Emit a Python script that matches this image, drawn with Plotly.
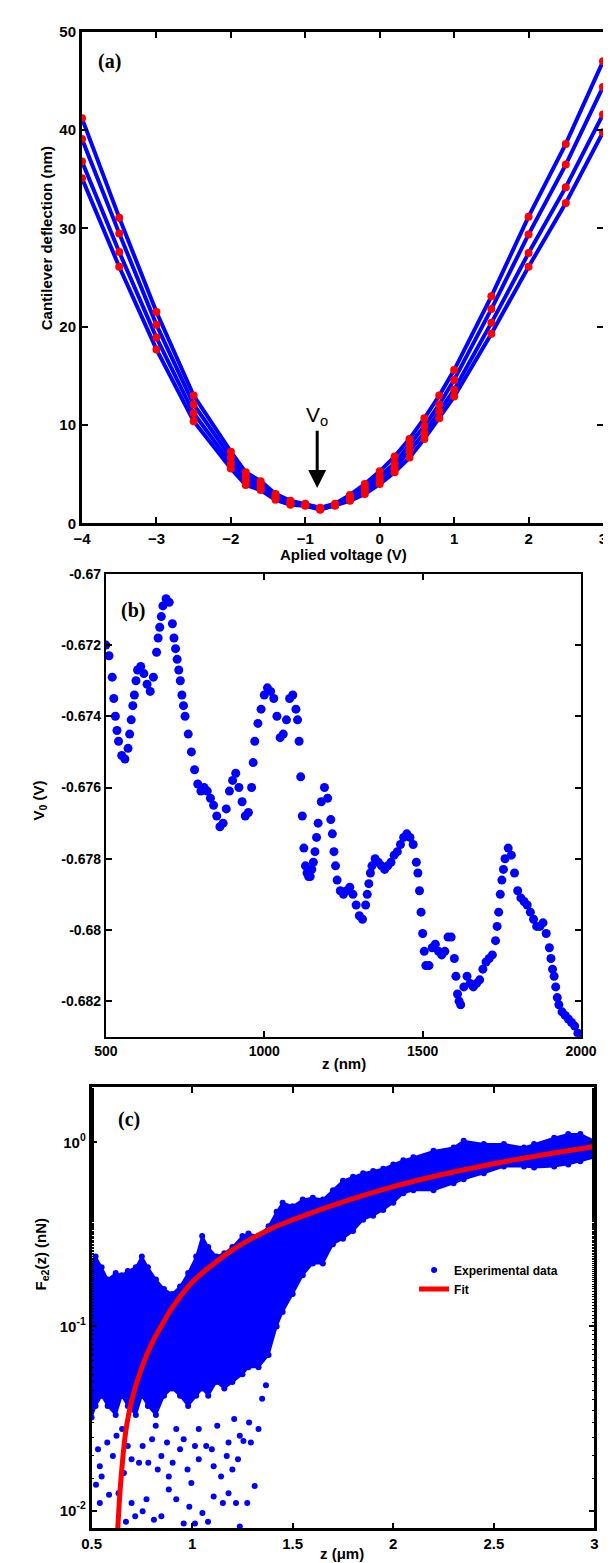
import plotly.graph_objects as go

# ---------------- Panel (a) data ----------------
volts = [-4, -3.5, -3, -2.5, -2, -1.8, -1.6, -1.4, -1.2, -1.0, -0.8, -0.6,
         -0.4, -0.2, 0, 0.2, 0.4, 0.6, 0.8, 1.0, 1.5, 2.0, 2.5, 3.0]
defl_1 = [41.2, 31.1, 21.5, 13.0, 7.3, 5.2, 4.3, 3.0, 2.3, 2.0, 1.6, 2.0,
          2.9, 4.0, 5.3, 6.8, 8.6, 10.7, 13.0, 15.6, 23.1, 31.2, 38.6, 47.0]
defl_2 = [39.1, 29.5, 20.2, 12.1, 6.7, 4.8, 4.0, 2.8, 2.1, 1.9, 1.5, 1.9,
          2.7, 3.6, 4.8, 6.1, 8.0, 9.9, 12.1, 14.6, 21.8, 29.4, 36.5, 44.4]
defl_3 = [36.8, 27.6, 18.9, 11.2, 6.1, 4.3, 3.7, 2.6, 2.0, 1.85, 1.45, 1.85,
          2.5, 3.3, 4.4, 5.6, 7.4, 9.2, 11.4, 13.6, 20.4, 27.5, 34.2, 41.6]
defl_4 = [35.1, 26.1, 17.7, 10.4, 5.6, 3.9, 3.4, 2.4, 1.9, 1.8, 1.4, 1.8,
          2.3, 3.0, 4.0, 5.2, 6.7, 8.6, 10.7, 12.9, 19.3, 26.1, 32.6, 39.8]
v0_mark_x = -0.84
v0_label_y = 10.9
v0_arrow_tip_y = 3.6

# ---------------- Panel (b) data ----------------
z_nm = [500, 510, 520, 525, 530, 535, 540, 550, 560, 570, 575, 580, 585, 590, 595,
        600, 610, 620, 630, 640, 650, 660, 665, 670, 675, 680, 690, 700, 710, 715,
        720, 725, 730, 735, 740, 745, 750, 760, 770, 780, 790, 800, 810, 820, 830,
        840, 850, 860, 870, 880, 890, 900, 910, 920, 930, 940, 950, 960, 965, 970,
        980, 990, 1000, 1010, 1020, 1030, 1040, 1050, 1060, 1070, 1080, 1090, 1100,
        1105, 1110, 1115, 1120, 1125, 1130, 1135, 1140, 1145, 1150, 1155, 1160, 1165,
        1170, 1180, 1190, 1200, 1210, 1215, 1220, 1225, 1230, 1240, 1250, 1260, 1270,
        1280, 1290, 1300, 1310, 1320, 1325, 1330, 1335, 1340, 1350, 1360, 1370, 1380,
        1390, 1400, 1410, 1420, 1430, 1440, 1450, 1460, 1470, 1480, 1485, 1490, 1495,
        1500, 1505, 1510, 1520, 1530, 1540, 1550, 1560, 1570, 1580, 1590, 1600, 1605,
        1610, 1615, 1620, 1630, 1640, 1650, 1660, 1670, 1680, 1690, 1700, 1710, 1720,
        1730, 1735, 1740, 1745, 1750, 1755, 1760, 1770, 1780, 1790, 1800, 1810, 1820,
        1830, 1840, 1850, 1860, 1870, 1880, 1890, 1900, 1905, 1910, 1915, 1920, 1925,
        1930, 1940, 1950, 1960, 1970, 1980, 1990, 2000]
v0 = [-0.6720, -0.6723, -0.6729, -0.6735, -0.6740, -0.6744, -0.6747, -0.6751, -0.6752,
      -0.6749, -0.6745, -0.6741, -0.6737, -0.6734, -0.6730,
      -0.6727, -0.6726, -0.6728, -0.6731, -0.6733, -0.6729, -0.6722, -0.6718, -0.6715,
      -0.6712, -0.6709, -0.6707, -0.6708, -0.6714, -0.6718,
      -0.6721, -0.6724, -0.6727, -0.6730, -0.6734, -0.6737, -0.6740, -0.6745, -0.6750,
      -0.6755, -0.6759, -0.6761, -0.6760, -0.6761, -0.6763,
      -0.6765, -0.6768, -0.6771, -0.6770, -0.6766, -0.6761, -0.6758, -0.6756, -0.6760,
      -0.6764, -0.6768, -0.6767, -0.6760, -0.6753, -0.6747,
      -0.6742, -0.6738, -0.6734, -0.6732, -0.6733, -0.6735, -0.6740, -0.6746, -0.6745,
      -0.6741, -0.6735, -0.6734, -0.6738,
      -0.6741, -0.6747, -0.6757, -0.6768, -0.6777, -0.6782, -0.6784, -0.6785, -0.6785,
      -0.6783, -0.6781, -0.6778, -0.6774,
      -0.6770, -0.6764, -0.6760, -0.6763, -0.6769, -0.6773, -0.6778, -0.6782, -0.6786,
      -0.6789, -0.6790, -0.6789, -0.6788,
      -0.6790, -0.6793, -0.6796, -0.6797, -0.6793, -0.6790, -0.6787, -0.6784, -0.6782,
      -0.6780, -0.6781, -0.6782, -0.6783,
      -0.6782, -0.6781, -0.6779, -0.6778, -0.6776, -0.6774, -0.6773, -0.6774, -0.6776,
      -0.6781, -0.6784, -0.6789, -0.6795,
      -0.6801, -0.6806, -0.6810, -0.6810, -0.6805, -0.6804, -0.6806, -0.6807, -0.6806,
      -0.6802, -0.6802, -0.6808, -0.6813,
      -0.6818, -0.6820, -0.6821, -0.6816, -0.6813, -0.6815, -0.6816, -0.6815, -0.6814,
      -0.6811, -0.6809, -0.6808, -0.6807,
      -0.6803, -0.6799, -0.6795, -0.6790, -0.6786, -0.6783, -0.6780, -0.6777, -0.6779,
      -0.6784, -0.6789, -0.6791, -0.6792,
      -0.6793, -0.6795, -0.6797, -0.6799, -0.6799, -0.6798, -0.6801, -0.6805, -0.6808,
      -0.6811, -0.6813, -0.6816, -0.6819,
      -0.6821, -0.6823, -0.6824, -0.6825, -0.6826, -0.6827, -0.6829, -0.6830]
v0_ticks = [-0.67, -0.672, -0.674, -0.676, -0.678, -0.68, -0.682]
v0_ticktext = ["-0.67", "-0.672", "-0.674", "-0.676", "-0.678", "-0.68", "-0.682"]

# ---------------- Panel (c) data ----------------
# envelope of the experimental cloud
cloud_z = [0.50, 0.52, 0.55, 0.58, 0.62, 0.65, 0.68, 0.72, 0.75, 0.78, 0.82, 0.86,
           0.90, 0.94, 0.98, 1.02, 1.05, 1.08, 1.12, 1.16, 1.20, 1.25, 1.28, 1.33,
           1.38, 1.42, 1.45, 1.50, 1.55, 1.60, 1.65, 1.70, 1.75, 1.80, 1.85, 1.90,
           1.95, 2.00, 2.05, 2.10, 2.20, 2.30, 2.35, 2.45, 2.55, 2.65, 2.70, 2.80,
           2.87, 2.93, 3.00]
cloud_upper = [0.22, 0.24, 0.21, 0.18, 0.195, 0.19, 0.20, 0.21, 0.24, 0.21, 0.18, 0.16,
               0.15, 0.165, 0.195, 0.24, 0.31, 0.27, 0.24, 0.25, 0.27, 0.31, 0.32, 0.31,
               0.35, 0.42, 0.47, 0.45, 0.49, 0.50, 0.49, 0.55, 0.62, 0.65, 0.68, 0.70,
               0.72, 0.76, 0.80, 0.83, 0.90, 0.94, 1.02, 0.98, 0.98, 0.94, 0.98, 1.06,
               1.11, 1.11, 1.02]
cloud_lower = [0.032, 0.037, 0.042, 0.037, 0.033, 0.042, 0.037, 0.033, 0.042, 0.037, 0.033, 0.042,
               0.046, 0.042, 0.037, 0.042, 0.046, 0.042, 0.050, 0.046, 0.050, 0.055, 0.060, 0.060,
               0.070, 0.10, 0.12, 0.15, 0.19, 0.22, 0.22, 0.28, 0.30, 0.33, 0.38, 0.40,
               0.43, 0.47, 0.53, 0.55, 0.55, 0.60, 0.63, 0.68, 0.74, 0.74, 0.73, 0.74,
               0.76, 0.79, 0.83]
# scattered points below the cloud
sparse_z = [0.541, 0.587, 0.699, 0.717, 0.773, 0.810, 0.847, 0.884, 0.921, 0.958, 1.014,
            1.051, 1.107, 1.181, 1.218, 1.237, 1.311, 0.522, 0.634, 0.671, 0.754, 0.986,
            1.079, 1.153, 1.274,
            0.541, 0.550, 0.606, 0.578, 0.661, 0.699, 0.754, 0.782, 0.829, 0.847, 0.884,
            0.903, 0.940, 0.977, 0.996, 1.033, 1.070, 1.107, 1.144, 1.172, 1.200, 1.228,
            1.255, 1.292, 1.330, 0.532, 0.624, 0.680, 0.736, 0.801, 0.875, 0.958, 1.014,
            1.098, 1.181, 1.237, 1.283, 1.348, 1.367, 0.652, 0.819, 0.921, 1.033, 1.125,
            1.209]
sparse_f = [0.0110, 0.0122, 0.0110, 0.0093, 0.0115, 0.0089, 0.0093, 0.0130, 0.0115, 0.0085,
            0.0085, 0.0097, 0.0119, 0.0124, 0.0110, 0.0082, 0.0136, 0.0138, 0.0124, 0.0087,
            0.0099, 0.0105, 0.0087, 0.0110, 0.0110,
            0.0174, 0.0153, 0.0198, 0.0234, 0.0160, 0.0190, 0.0224, 0.0182, 0.0167, 0.0198,
            0.0153, 0.0182, 0.0215, 0.0167, 0.0141, 0.0190, 0.0224, 0.0174, 0.0153, 0.0198,
            0.0167, 0.0190, 0.0239, 0.0234, 0.0277, 0.0215, 0.0255, 0.0224, 0.0182, 0.0244,
            0.0234, 0.0244, 0.0224, 0.0215, 0.0234, 0.0255, 0.0301, 0.0405, 0.0479, 0.0277,
            0.0289, 0.0277, 0.0277, 0.0289, 0.0314]
fit_z = [0.63, 0.64, 0.65, 0.67, 0.70, 0.75, 0.80, 0.85, 0.90, 1.0, 1.1, 1.2, 1.3, 1.4,
         1.5, 1.6, 1.8, 2.0, 2.2, 2.4, 2.6, 2.8, 3.0]
fit_f = [0.0079, 0.0120, 0.0166, 0.0269, 0.0398, 0.060, 0.081, 0.102, 0.126, 0.174, 0.216,
         0.260, 0.302, 0.343, 0.380, 0.417, 0.495, 0.575, 0.653, 0.729, 0.804, 0.877, 0.951]
f_ticks = [0.01, 0.1, 1]
f_ticktext = ["10<sup>-2</sup>", "10<sup>-1</sup>", "10<sup>0</sup>"]

BLUE = "#0000FF"
RED = "#FF0000"
W, H = 611, 1563

fig = go.Figure()

# Panel (a)
for d in [defl_1, defl_2, defl_3, defl_4]:
    fig.add_trace(go.Scatter(x=volts, y=d, mode="lines", line=dict(color=BLUE, width=4),
                             showlegend=False, xaxis="x", yaxis="y", hoverinfo="skip"))
for d in [defl_1, defl_2, defl_3, defl_4]:
    fig.add_trace(go.Scatter(x=volts, y=d, mode="markers", marker=dict(color=RED, size=8),
                             showlegend=False, xaxis="x", yaxis="y"))

# Panel (b)
fig.add_trace(go.Scatter(x=z_nm, y=v0, mode="markers", marker=dict(color=BLUE, size=9),
                         showlegend=False, xaxis="x2", yaxis="y2"))

# Panel (c)
fig.add_trace(go.Scatter(x=cloud_z + cloud_z[::-1], y=cloud_upper + cloud_lower[::-1],
                         fill="toself", fillcolor=BLUE, mode="lines",
                         line=dict(color=BLUE, width=2), showlegend=False,
                         xaxis="x3", yaxis="y3", hoverinfo="skip"))
fig.add_trace(go.Scatter(x=cloud_z + cloud_z, y=cloud_upper + cloud_lower, mode="markers",
                         marker=dict(color=BLUE, size=6), showlegend=False,
                         xaxis="x3", yaxis="y3"))
fig.add_trace(go.Scatter(x=sparse_z, y=sparse_f, mode="markers",
                         marker=dict(color=BLUE, size=6), name="Experimental data",
                         xaxis="x3", yaxis="y3"))
fig.add_trace(go.Scatter(x=fit_z, y=fit_f, mode="lines", line=dict(color=RED, width=5, shape="spline"),
                         name="Fit", xaxis="x3", yaxis="y3"))


def tickfont(size):
    return dict(family="Liberation Sans, Arial", size=size, color="black", weight="bold")


def ax(linewidth, size=15, **kw):
    d = dict(showline=True, linecolor="black", linewidth=linewidth, mirror="ticks",
             ticks="inside", ticklen=6, tickwidth=2, tickcolor="black",
             showgrid=False, zeroline=False, tickfont=tickfont(size))
    d.update(kw)
    return d


def px_x(p):
    return p / W


def px_y(p):
    return 1 - p / H


layout = dict(
    width=W, height=H, margin=dict(l=0, r=0, t=0, b=0),
    paper_bgcolor="white", plot_bgcolor="white",
    xaxis=ax(3, 15, domain=[px_x(65), 1.0], range=[-4, 3], dtick=1, anchor="y"),
    yaxis=ax(3, 15, domain=[px_y(512), px_y(15)], range=[0, 50], dtick=10, anchor="x"),
    xaxis2=ax(2, 14, domain=[px_x(90), px_x(588)], range=[500, 2000],
              tickvals=[500, 1000, 1500, 2000], anchor="y2"),
    yaxis2=ax(2, 14, domain=[px_y(1031), px_y(563)], range=[-0.683, -0.67],
              tickvals=v0_ticks, ticktext=v0_ticktext, anchor="x2"),
    xaxis3=ax(2.5, 15, domain=[px_x(75), px_x(602)], range=[0.5, 3.0], dtick=0.5, anchor="y3"),
    yaxis3=ax(2.5, 15, domain=[px_y(1528), px_y(1082)], type="log", range=[-2.097, 0.30],
              tickvals=f_ticks, ticktext=f_ticktext, anchor="x3",
              minor=dict(ticks="inside", ticklen=3, tickwidth=1, tickcolor="black")),
    showlegend=True,
    legend=dict(x=px_x(413), y=px_y(1252), xanchor="left", yanchor="top",
                bgcolor="rgba(0,0,0,0)", itemwidth=30, tracegroupgap=0,
                font=dict(family="Liberation Sans, Arial", size=12, color="black", weight="bold")),
)
fig.update_layout(**layout)

title_font = dict(family="Liberation Sans, Arial", size=15, color="black", weight="bold")
label_font = dict(family="Liberation Serif, Times New Roman", size=20, color="black", weight="bold")
ann = []
# axis titles
ann.append(dict(text="Cantilever deflection (nm)", x=px_x(28), y=px_y(224), textangle=-90, font=title_font))
ann.append(dict(text="Aplied voltage (V)", x=px_x(339), y=px_y(543), font=title_font))
ann.append(dict(text="V<sub>0</sub> (V)", x=px_x(20), y=px_y(792), textangle=-90, font=title_font))
ann.append(dict(text="z (nm)", x=px_x(340), y=px_y(1058), font=title_font))
ann.append(dict(text="F<sub>e2</sub>(z) (nN)", x=px_x(22), y=px_y(1250), textangle=-90, font=title_font))
ann.append(dict(text="z (μm)", x=px_x(337), y=px_y(1553), font=title_font))
# panel labels
ann.append(dict(text="(a)", x=px_x(94), y=px_y(45), font=label_font))
ann.append(dict(text="(b)", x=px_x(118), y=px_y(600), font=label_font))
ann.append(dict(text="(c)", x=px_x(114), y=px_y(1115), font=label_font))
for a in ann:
    a.update(xref="paper", yref="paper", showarrow=False, xanchor="center", yanchor="middle")

# V0 label with arrow pointing at the minimum (data coordinates of panel a)
ann.append(dict(text="V<sub>o</sub>", x=v0_mark_x, y=v0_arrow_tip_y, xref="x", yref="y",
                ax=v0_mark_x, ay=v0_label_y, axref="x", ayref="y",
                showarrow=True, arrowhead=2, arrowsize=1.2, arrowwidth=3, arrowcolor="black",
                font=dict(family="Liberation Sans, Arial", size=21, color="black")))
fig.update_layout(annotations=ann)

fig.write_html("out.html")
